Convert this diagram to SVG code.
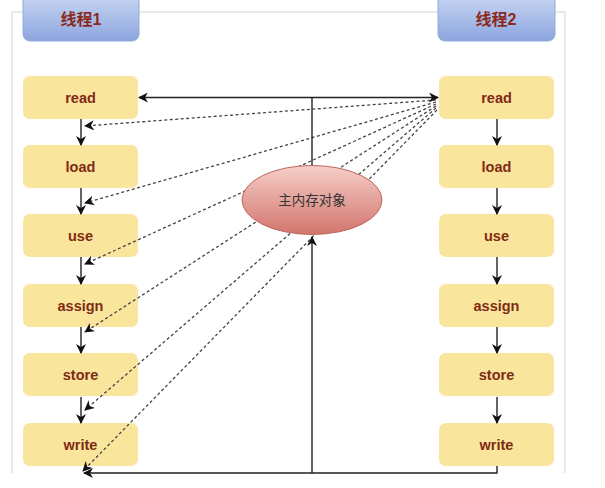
<svg xmlns="http://www.w3.org/2000/svg" width="605" height="488" viewBox="0 0 605 488">
<style>
.frame{fill:none;stroke:#e2e2e2;stroke-width:1.5}
.step rect{fill:#f9e59c}
.step text{font-family:"Liberation Sans",Arial,sans-serif;font-weight:bold;font-size:14.5px;fill:#7f2b14;text-anchor:middle}
.head rect{fill:url(#blue);stroke:#93a9dc;stroke-width:1}
.head text{font-family:"Liberation Sans","Noto Sans CJK SC",sans-serif;font-weight:bold;font-size:16px;fill:#8a2a1c;text-anchor:middle}
.solid{fill:none;stroke:#222;stroke-width:1.4}
.dash{fill:none;stroke:#444;stroke-width:1.3;stroke-dasharray:3 2.5}
</style>
<defs>
<linearGradient id="blue" x1="0" y1="0" x2="0" y2="1"><stop offset="0" stop-color="#d0dcf5"/><stop offset="1" stop-color="#8ba5df"/></linearGradient>
<linearGradient id="red" x1="0" y1="0" x2="0" y2="1"><stop offset="0" stop-color="#f6cfc9"/><stop offset="1" stop-color="#d2756c"/></linearGradient>
<marker id="ah" viewBox="0 0 10 10" refX="9" refY="5" markerWidth="10" markerHeight="10" markerUnits="userSpaceOnUse" orient="auto"><path d="M0,0 L10,5 L0,10 L3,5 Z" fill="#111"/></marker>
</defs>
<rect width="605" height="488" fill="#fff"/>
<path class="frame" d="M12,473 V12 H565 V473"/>

<g id="thread1"><g class="head"><rect x="23" y="-10" width="116" height="51" rx="7"/><text x="81" y="25">线程1</text></g></g>
<g id="thread2"><g class="head"><rect x="438" y="-10" width="117" height="51" rx="7"/><text x="496" y="25">线程2</text></g></g>

<g id="t1-read" class="step"><rect x="23" y="76" width="115" height="43" rx="7"/><text x="80.5" y="102.5">read</text></g>
<g id="t1-load" class="step"><rect x="23" y="145" width="115" height="43" rx="7"/><text x="80.5" y="171.5">load</text></g>
<g id="t1-use" class="step"><rect x="23" y="214" width="115" height="43" rx="7"/><text x="80.5" y="240.5">use</text></g>
<g id="t1-assign" class="step"><rect x="23" y="284" width="115" height="43" rx="7"/><text x="80.5" y="310.5">assign</text></g>
<g id="t1-store" class="step"><rect x="23" y="353" width="115" height="43" rx="7"/><text x="80.5" y="379.5">store</text></g>
<g id="t1-write" class="step"><rect x="23" y="423" width="115" height="43" rx="7"/><text x="80.5" y="449.5">write</text></g>

<g id="t2-read" class="step"><rect x="439" y="76" width="115" height="43" rx="7"/><text x="496.5" y="102.5">read</text></g>
<g id="t2-load" class="step"><rect x="439" y="145" width="115" height="43" rx="7"/><text x="496.5" y="171.5">load</text></g>
<g id="t2-use" class="step"><rect x="439" y="214" width="115" height="43" rx="7"/><text x="496.5" y="240.5">use</text></g>
<g id="t2-assign" class="step"><rect x="439" y="284" width="115" height="43" rx="7"/><text x="496.5" y="310.5">assign</text></g>
<g id="t2-store" class="step"><rect x="439" y="353" width="115" height="43" rx="7"/><text x="496.5" y="379.5">store</text></g>
<g id="t2-write" class="step"><rect x="439" y="423" width="115" height="43" rx="7"/><text x="496.5" y="449.5">write</text></g>

<g id="connectors">
<path class="dash" marker-end="url(#ah)" d="M436,100 L85,126"/>
<path class="dash" marker-end="url(#ah)" d="M436,102 L85,203"/>
<path class="dash" marker-end="url(#ah)" d="M436,104 L85,264"/>
<path class="dash" marker-end="url(#ah)" d="M436,106 L85,332"/>
<path class="dash" marker-end="url(#ah)" d="M436,108 L85,410"/>
<path class="dash" marker-end="url(#ah)" d="M437,110 L83,471"/>
<path class="solid" d="M312,166 V97.5"/>
<path class="solid" marker-end="url(#ah)" d="M312,97.5 H139"/>
<path class="solid" marker-end="url(#ah)" d="M312,97.5 H438"/>
<path class="solid" marker-end="url(#ah)" d="M497,466 V473 H84"/>
<path class="solid" marker-end="url(#ah)" d="M312,473 V237"/>
<path class="solid" marker-end="url(#ah)" d="M81,119 V145"/>
<path class="solid" marker-end="url(#ah)" d="M81,188 V214"/>
<path class="solid" marker-end="url(#ah)" d="M81,257 V284"/>
<path class="solid" marker-end="url(#ah)" d="M81,327 V353"/>
<path class="solid" marker-end="url(#ah)" d="M81,397 V423"/>
<path class="solid" marker-end="url(#ah)" d="M497,119 V145"/>
<path class="solid" marker-end="url(#ah)" d="M497,188 V214"/>
<path class="solid" marker-end="url(#ah)" d="M497,257 V284"/>
<path class="solid" marker-end="url(#ah)" d="M497,327 V353"/>
<path class="solid" marker-end="url(#ah)" d="M497,397 V423"/>
</g>

<g id="memory"><ellipse cx="312" cy="200" rx="70" ry="34.5" fill="url(#red)" stroke="#c0655d" stroke-width="1"/><text x="312" y="205" font-family="'Noto Sans CJK SC',sans-serif" font-size="13.5" fill="#333" text-anchor="middle">主内存对象</text></g>
</svg>
